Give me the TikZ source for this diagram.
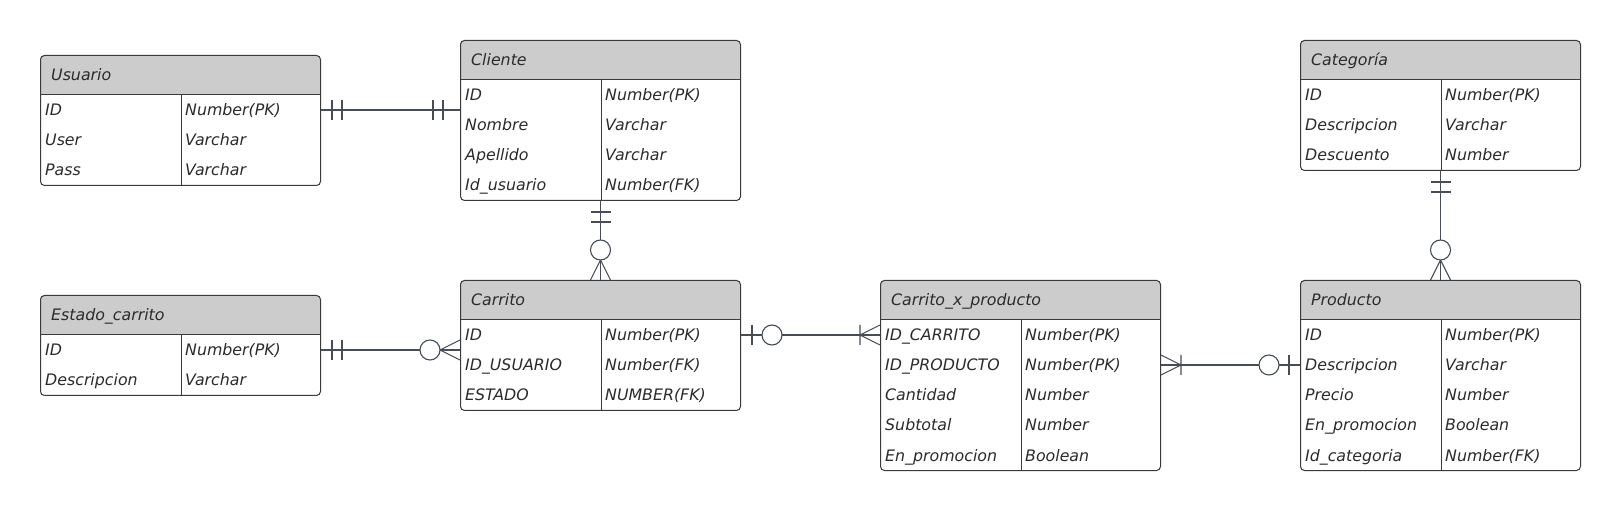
\documentclass[tikz,border=0pt]{standalone}
\usepackage{fontspec}
\setmainfont{DejaVu Sans}
\usetikzlibrary{calc,positioning}

\definecolor{borde}{HTML}{3A3A3A}
\definecolor{linea}{HTML}{464D57}
\definecolor{gris}{HTML}{CCCCCC}
\definecolor{texto}{HTML}{2B2B2B}

\tikzset{
  caja/.style={draw=borde, line width=1pt, rounded corners=4pt, minimum width=280pt, inner sep=0pt, anchor=north west},
  campo/.style={anchor=west, inner sep=0pt, text height=16pt, text depth=4pt, text=texto, font=\fontsize{15.8}{19}\selectfont\itshape},
  rel/.style={draw=linea, line width=1.1pt},
  % marcas del diagrama ER (la caja queda en el origen)
  dosbarras/.pic={\draw[rel] (11,-10) -- (11,10) (21,-10) -- (21,10);},
  cerouno/.pic={\draw[rel] (11,-10) -- (11,10);
                \draw[rel, fill=white] (31,0) circle (10pt);},
  ceromuchos/.pic={\draw[rel] (0,-10) -- (20,0) -- (0,10);
                   \draw[rel, fill=white] (30,0) circle (10pt);},
  unomuchos/.pic={\draw[rel] (0,-10) -- (20,0) -- (0,10) (20,-10) -- (20,10);}
}

% #1 nombre, #2 esquina, #3 titulo, #4 filas, #5 campos
\newcommand{\tabla}[5]{%
  \pgfmathsetmacro{\alto}{40+30*#4}
  \begin{scope}
    \clip[rounded corners=4pt] #2 rectangle ++(280,\alto);
    \fill[gris] #2 rectangle ++(280,40);
  \end{scope}
  \node[caja, minimum height=\alto pt] (#1) at #2 {};
  \draw[borde, line width=1pt] ($(#1.north west)+(0,40)$) -- ($(#1.north east)+(0,40)$);
  \draw[borde, line width=1pt] ($(#1.north west)+(141,40)$) -- ($(#1.south west)+(141,0)$);
  \node[campo] (#1-t) at ($(#1.north west)+(11,20)$) {#3};
  \foreach \nom/\tipo [count=\i] in {#5}{
    \node[campo] (#1-\i) at ($(#1.north west)+(5,25+30*\i)$) {\nom};
    \node[campo] (#1-\i-tipo) at ($(#1.north west)+(145,25+30*\i)$) {\tipo};
  }
}

\begin{document}
\begin{tikzpicture}[x=1pt, y=-1pt]
  \fill[white] (0,0) rectangle (1620,510);
  \useasboundingbox (0,0) rectangle (1620,510);

  \tabla{usuario}{(40,55)}{Usuario}{3}{ID/Number(PK), User/Varchar, Pass/Varchar}
  \tabla{cliente}{(460,40)}{Cliente}{4}{ID/Number(PK), Nombre/Varchar, Apellido/Varchar, Id\_usuario/Number(FK)}
  \tabla{categoria}{(1300,40)}{Categoría}{3}{ID/Number(PK), Descripcion/Varchar, Descuento/Number}
  \tabla{estado}{(40,295)}{Estado\_carrito}{2}{ID/Number(PK), Descripcion/Varchar}
  \tabla{carrito}{(460,280)}{Carrito}{3}{ID/Number(PK), ID\_USUARIO/Number(FK), ESTADO/NUMBER(FK)}
  \tabla{cxp}{(880,280)}{Carrito\_x\_producto}{5}{ID\_CARRITO/Number(PK), ID\_PRODUCTO/Number(PK), Cantidad/Number, Subtotal/Number, En\_promocion/Boolean}
  \tabla{producto}{(1300,280)}{Producto}{5}{ID/Number(PK), Descripcion/Varchar, Precio/Number, En\_promocion/Boolean, Id\_categoria/Number(FK)}

  % relaciones
  \draw[rel] (usuario-1 -| usuario.east) -- (usuario-1 -| cliente.west);
  \pic at (usuario-1 -| usuario.east) {dosbarras};
  \pic[rotate=180] at ($(usuario-1 -| cliente.west)+(-6,0)$) {dosbarras};

  \draw[rel] (cliente.south) -- (carrito.north);
  \pic[rotate=-90] at (cliente.south) {dosbarras};
  \pic[rotate=90] at (carrito.north) {ceromuchos};

  \draw[rel] (estado-1 -| estado.east) -- (estado-1 -| carrito.west);
  \pic at (estado-1 -| estado.east) {dosbarras};
  \pic[rotate=180] at (estado-1 -| carrito.west) {ceromuchos};

  \draw[rel] (carrito-1 -| carrito.east) -- (carrito-1 -| cxp.west);
  \pic at (carrito-1 -| carrito.east) {cerouno};
  \pic[rotate=180] at (carrito-1 -| cxp.west) {unomuchos};

  \draw[rel] (cxp-2 -| cxp.east) -- (cxp-2 -| producto.west);
  \pic at (cxp-2 -| cxp.east) {unomuchos};
  \pic[rotate=180] at (cxp-2 -| producto.west) {cerouno};

  \draw[rel] (categoria.south) -- (producto.north);
  \pic[rotate=-90] at (categoria.south) {dosbarras};
  \pic[rotate=90] at (producto.north) {ceromuchos};
\end{tikzpicture}
\end{document}
